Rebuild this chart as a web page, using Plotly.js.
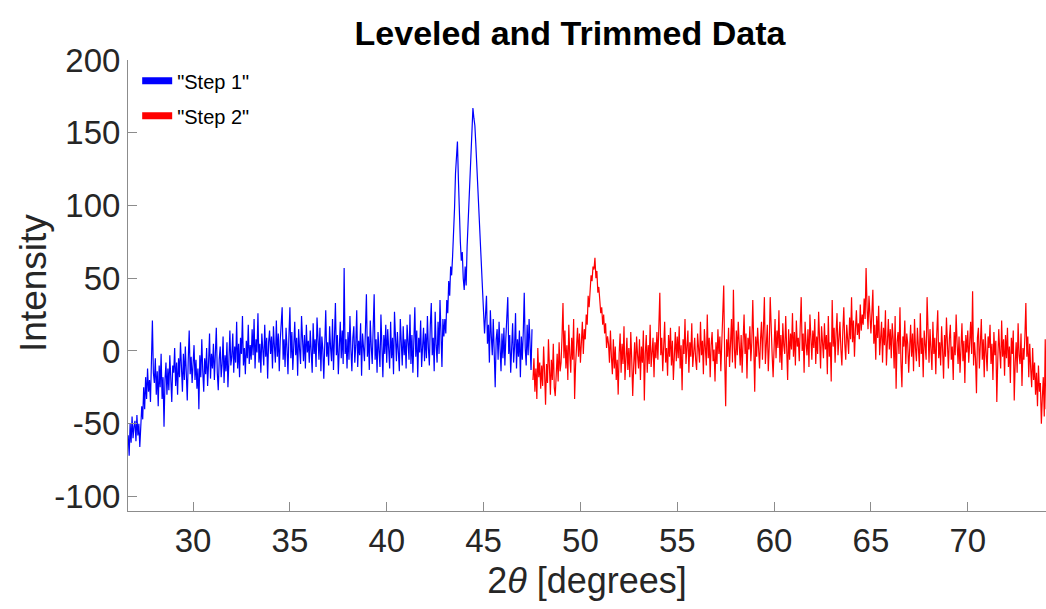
<!DOCTYPE html>
<html>
<head>
<meta charset="utf-8">
<script src="https://cdn.plot.ly/plotly-3.0.1.min.js"></script>
<style>
  html, body { margin: 0; padding: 0; background: #ffffff; }
  #chart { width: 1046px; height: 609px; }
</style>
</head>
<body>
<div id="chart"></div>
<script>
// ---- Data ----
const chartTitle = 'Leveled and Trimmed Data';
const xTitle = '2<i>θ</i> [degrees]';
const yTitle = 'Intensity';
const seriesNames = ['"Step 1"', '"Step 2"'];

// 2-theta scan grid: start angle and constant step of each scan
const step1Start = 26.65;
const step2Start = 47.55;
const scanStep = 0.05;

// Step 1 intensities (26.65 ... 47.50 deg)
const step1Values = [
  -58,-72,-50,-63,-45,-60,-52,
  -48,-62,-44,-58,-50,-66,-55,-38,-47,-25,-40,-18,-33,-12,-28,-20,-35,-8,21,-15,
  -22,-5,-30,-14,-38,-10,-25,-2,-33,-18,-52,-20,-8,-30,-12,-27,-3,-19,-35,-10,
  -15,2,-24,-8,-30,-5,-18,6,-12,-28,-2,-20,3,-14,-34,-6,14,-16,-4,-22,
  -9,4,-20,-6,-26,-12,-40,-3,-18,8,-14,-28,-5,-16,2,-24,-8,12,-19,-2,
  -12,5,-20,-4,16,-15,-27,-6,3,-18,-9,10,-22,-3,-14,6,-25,-7,14,-10,
  -4,12,-15,3,-8,20,-12,5,-18,9,-2,24,-10,2,-16,7,-5,18,-9,4,
  -6,15,-3,22,-12,8,-1,26,-8,5,-15,12,2,-10,18,-4,9,-19,6,14,
  -2,10,-12,17,3,-8,21,-4,12,-14,7,25,30,-6,8,-11,16,2,-16,11,
  30,-5,13,-13,6,20,-3,9,-17,15,1,-9,24,4,-7,11,-12,18,-1,7,
  -8,14,3,-15,19,-2,8,-11,23,5,-6,16,-14,10,1,-19,12,28,-4,6,
  -10,17,2,-7,22,-13,9,33,-3,11,-16,6,20,-5,14,-9,57,-2,8,-12,
  13,-6,24,1,-14,9,17,-8,4,28,-11,7,-3,19,-17,12,2,-7,15,39,
  -4,10,-13,21,3,-9,16,39,-6,8,-15,13,0,-11,25,5,-18,11,-2,18,
  -8,15,2,-12,20,-5,9,-16,27,4,-7,13,-1,-14,22,6,-10,17,-3,8,
  -12,18,1,-6,25,-9,11,-15,7,30,-4,14,-18,9,-1,21,-11,5,16,-7,
  12,-5,24,2,-10,18,33,-3,9,-14,27,4,-8,20,-2,35,7,-11,22,10,
  22,12,35,26,48,38,58,52,65,78,98,122,135,144,118,92,75,62,68,50,
  42,58,45,72,90,108,122,136,150,167,160,155,142,128,115,100,90,78,62,45,
  30,12,25,38,5,18,-8,28,10,-3,22,-12,-25,8,15,-6,20,2,-14,12,
  -5,16,-10,9,24,37,-2,11,-15,6,19,-8,3,26,-12,8,-4,14,-18,10,
  -6,13,40,2,-10,18,-3,22,7,-13,15
];

// Step 2 intensities (47.55 ... 74.05 deg)
const step2Values = [
  -20,-5,-28,-12,-33,2,-18,-8,-26,
  -10,-24,3,-15,-37,-9,-22,8,-18,-30,-6,-20,5,-25,-31,-12,-2,-21,6,-14,
  -8,10,33,-5,14,-12,4,-20,18,-2,-15,9,-6,22,-33,-10,2,16,-4,12,
  -8,6,20,-2,15,8,25,18,38,30,44,52,48,58,56,64,50,55,40,44,
  35,26,30,18,25,12,19,2,10,5,-8,14,-4,-16,8,-12,3,-20,-6,-30,
  -2,12,-15,5,-9,17,-20,-4,9,-13,2,-18,13,-6,-31,-10,6,-16,10,-3,
  -12,8,-20,3,-8,14,-34,-2,11,-15,4,-9,18,-11,-1,9,-18,6,-5,13,
  -6,15,40,-3,9,-14,5,20,-8,2,-17,11,-4,16,-10,7,-20,3,13,-7,
  10,-5,17,-12,4,-27,8,-2,22,-9,1,14,-15,6,-4,19,-11,3,9,-6,
  -13,12,2,-8,20,-3,7,-16,15,0,-10,25,-5,9,-18,4,13,-7,1,-21,
  6,-9,15,-2,10,-14,3,18,45,-6,-38,8,-4,16,-11,5,22,-8,42,2,
  -12,14,-3,20,4,-10,11,-15,7,25,-2,12,-19,9,1,17,-7,6,35,-5,
  -28,10,-4,16,2,-12,8,20,-6,13,37,-9,5,18,-14,3,37,11,-3,-18,
  9,22,-5,14,2,28,-8,11,-13,19,4,-2,24,6,-20,15,-6,12,1,26,
  -4,13,-10,21,3,9,-7,17,37,0,12,-15,20,5,-3,15,-11,25,7,-6,
  14,2,22,-9,10,-2,27,4,-12,17,8,-5,19,1,11,-16,24,-4,6,-21,
  35,3,16,-8,12,26,-3,9,20,1,-10,14,30,5,-6,18,10,-2,23,8,
  37,6,21,-4,15,28,11,19,8,32,14,25,18,36,22,57,30,15,38,20,
  12,26,42,5,18,-6,24,9,31,-3,14,20,-8,16,4,28,-10,11,22,1,
  15,-5,19,8,-12,24,-26,6,13,-2,30,-8,-25,10,3,21,-9,12,5,-15,
  8,18,-4,12,-14,22,2,-7,16,6,-11,26,-2,9,-18,14,3,-6,37,10,
  -8,15,4,-13,20,-2,9,-16,12,28,-5,6,-10,17,1,-19,11,-4,23,3,
  -12,8,18,-6,3,-20,13,-3,25,5,-9,10,-15,2,19,-7,7,-22,11,-1,
  14,-8,4,20,-2,41,-10,6,-5,-29,9,16,-12,3,22,-6,8,-18,12,-1,
  -14,10,2,18,-9,5,-20,13,-3,7,-35,-6,15,0,-12,21,-4,8,-17,11,
  -5,16,-11,3,-22,9,-2,14,-34,-8,6,-15,19,-3,-9,12,-24,2,-6,10,
  33,-4,10,-18,5,-12,-25,2,-20,-8,-30,-15,-38,-10,-28,-22,-50,-32,-18,-45,
  8,-40
];

// Axis ticks
const xTickVals = [30, 35, 40, 45, 50, 55, 60, 65, 70];
const xTickText = ['30', '35', '40', '45', '50', '55', '60', '65', '70'];
const yTickVals = [-100, -50, 0, 50, 100, 150, 200];
const yTickText = ['-100', '-50', '0', '50', '100', '150', '200'];
const xRange = [26.64, 74.04];
const yRange = [-110, 200];

// ---- Build traces ----
function scanAngles(start, n) {
  const out = [];
  for (let i = 0; i < n; i++) out.push(+(start + i * scanStep).toFixed(2));
  return out;
}
const colors = ['#0000ff', '#ff0000'];
const fontFam = '"Liberation Sans", Arial, Helvetica, sans-serif';

const traces = [
  { x: scanAngles(step1Start, step1Values.length), y: step1Values, type: 'scatter', mode: 'lines',
    line: { color: colors[0], width: 1.2 }, showlegend: false, hoverinfo: 'x+y' },
  { x: scanAngles(step2Start, step2Values.length), y: step2Values, type: 'scatter', mode: 'lines',
    line: { color: colors[1], width: 1.2 }, showlegend: false, hoverinfo: 'x+y' },
  // legend entries (thick swatches, as in the reference)
  { x: [null], y: [null], type: 'scatter', mode: 'lines', name: seriesNames[0],
    line: { color: colors[0], width: 7 }, legendgroup: 'a' },
  { x: [null], y: [null], type: 'scatter', mode: 'lines', name: seriesNames[1],
    line: { color: colors[1], width: 7 }, legendgroup: 'b' }
];

const axisCommon = {
  showline: true, linecolor: '#8c8c8c', linewidth: 1,
  ticks: 'inside', ticklen: 9, tickwidth: 1, tickcolor: '#8c8c8c',
  showgrid: false, zeroline: false, mirror: false,
  tickfont: { family: fontFam, size: 33, color: '#262626' },
  fixedrange: true
};

const layout = {
  width: 1046, height: 609,
  margin: { l: 128, r: 0, t: 60, b: 98 },
  paper_bgcolor: '#ffffff', plot_bgcolor: '#ffffff',
  font: { family: fontFam, color: '#262626' },
  title: {
    text: '<b>' + chartTitle + '</b>',
    font: { family: fontFam, size: 34, color: '#000000' },
    x: 570 / 1046, xanchor: 'center', xref: 'container',
    y: 1 - 33 / 609, yanchor: 'middle', yref: 'container'
  },
  xaxis: Object.assign({}, axisCommon, {
    range: xRange, tickmode: 'array', tickvals: xTickVals, ticktext: xTickText,
    ticklabelstandoff: 0,
    title: { text: xTitle, font: { family: fontFam, size: 36, color: '#262626' }, standoff: 10 }
  }),
  yaxis: Object.assign({}, axisCommon, {
    range: yRange, tickmode: 'array', tickvals: yTickVals, ticktext: yTickText,
    ticklabelstandoff: 0,
    title: { text: '' }
  }),
  annotations: [{
    text: yTitle, textangle: -90, showarrow: false,
    xref: 'paper', yref: 'paper', x: (33 - 128) / 918, y: (511 - 283) / 451,
    xanchor: 'center', yanchor: 'middle',
    font: { family: fontFam, size: 37, color: '#262626' }
  }],
  showlegend: true,
  legend: {
    x: 0.01, xanchor: 'left', y: 0.997, yanchor: 'top',
    bgcolor: 'rgba(255,255,255,0)', borderwidth: 0,
    font: { family: fontFam, size: 20, color: '#000000' },
    tracegroupgap: 6, itemwidth: 30
  },
  hovermode: 'closest'
};

Plotly.newPlot('chart', traces, layout, { displayModeBar: false, staticPlot: false });
</script>
</body>
</html>
